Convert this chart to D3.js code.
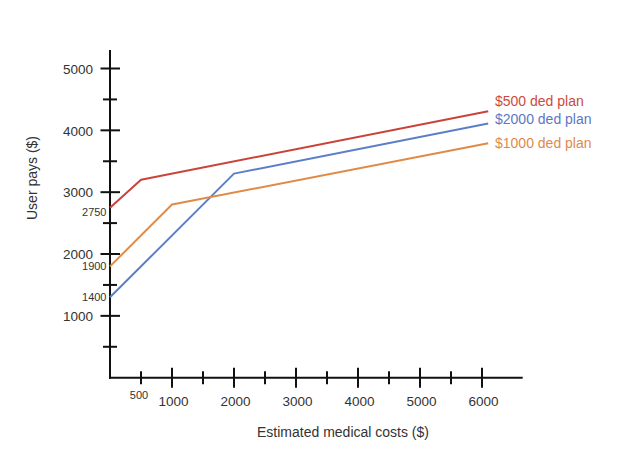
<!DOCTYPE html>
<html>
<head>
<meta charset="utf-8">
<script src="https://cdn.jsdelivr.net/npm/d3@7/dist/d3.min.js"></script>
<style>
  html, body { margin: 0; padding: 0; background: #fff; }
  svg { display: block; font-family: "Liberation Sans", Arial, sans-serif; }
</style>
</head>
<body>
<svg id="chart" width="632" height="465"></svg>
<script>
// ---- data ----
const seriesNames = ["$500 ded plan", "$2000 ded plan", "$1000 ded plan"];
const costs500 = [0, 500, 6100];
const pays500 = [2750, 3200, 4310];
const costs2000 = [0, 2000, 6100];
const pays2000 = [1300, 3300, 4110];
const costs1000 = [0, 1000, 6100];
const pays1000 = [1800, 2800, 3790];
const xMajorTicks = [1000, 2000, 3000, 4000, 5000, 6000];
const xMinorTicks = [500, 1500, 2500, 3500, 4500, 5500];
const yMajorTicks = [1000, 2000, 3000, 4000, 5000];
const yMinorTicks = [500, 1500, 2500, 3500, 4500];
const startLabels = ["2750", "1900", "1400"];
const colors = ["#c9433a", "#5b7fc6", "#e08a45"];
const textColors = ["#cc4a40", "#5d78c2", "#de8a4c"];

const svg = d3.select("#chart");
const x = d3.scaleLinear().domain([0, 6000]).range([110, 482]);
const y = d3.scaleLinear().domain([0, 5000]).range([377.7, 68.5]);

// axis lines
svg.append("line").attr("x1", x(0)).attr("x2", x(0)).attr("y1", 50).attr("y2", y(0) + 1)
  .attr("stroke", "#111").attr("stroke-width", 2);
svg.append("line").attr("x1", x(0) - 1).attr("x2", 522.7).attr("y1", y(0)).attr("y2", y(0))
  .attr("stroke", "#111").attr("stroke-width", 2);

// y ticks
const yMaj = d3.axisLeft(y).tickValues(yMajorTicks).tickSize(0).tickFormat(d3.format("d"));
svg.selectAll(".ymaj").data(yMajorTicks).enter().append("line")
  .attr("x1", x(0) - 9.5).attr("x2", x(0) + 10).attr("y1", d => y(d)).attr("y2", d => y(d))
  .attr("stroke", "#111").attr("stroke-width", 2);
svg.selectAll(".ymin").data(yMinorTicks).enter().append("line")
  .attr("x1", x(0) - 7).attr("x2", x(0) + 7).attr("y1", d => y(d)).attr("y2", d => y(d))
  .attr("stroke", "#111").attr("stroke-width", 2);
const gy = svg.append("g").attr("transform", `translate(${x(0) - 17},0)`).call(yMaj);
gy.select(".domain").remove();
gy.selectAll("text").attr("font-size", "13.5px").attr("fill", "#333")
  .attr("font-family", "'Liberation Sans', Arial, sans-serif").attr("x", 0).attr("dy", "0.35em");

// x ticks
svg.selectAll(".xmaj").data(xMajorTicks).enter().append("line")
  .attr("x1", d => x(d)).attr("x2", d => x(d)).attr("y1", y(0) - 10).attr("y2", y(0) + 10)
  .attr("stroke", "#111").attr("stroke-width", 2);
svg.selectAll(".xmin").data(xMinorTicks).enter().append("line")
  .attr("x1", d => x(d)).attr("x2", d => x(d)).attr("y1", y(0) - 6.5).attr("y2", y(0) + 6.5)
  .attr("stroke", "#111").attr("stroke-width", 2);
const xAx = d3.axisBottom(x).tickValues(xMajorTicks).tickSize(0).tickFormat(d3.format("d"));
const gx = svg.append("g").attr("transform", `translate(1,${y(0) + 19})`).call(xAx);
gx.select(".domain").remove();
gx.selectAll("text").attr("font-size", "13.5px").attr("fill", "#333")
  .attr("font-family", "'Liberation Sans', Arial, sans-serif").attr("y", 0).attr("dy", "0.71em");
// small 500 label
svg.append("text").attr("x", x(500) - 2).attr("y", 395).attr("dy", "0.35em")
  .attr("text-anchor", "middle").attr("font-size", "11px").attr("fill", "#333").text("500");

// lines
const series = [
  { name: seriesNames[0], xs: costs500, ys: pays500, c: colors[0], t: textColors[0] },
  { name: seriesNames[1], xs: costs2000, ys: pays2000, c: colors[1], t: textColors[1] },
  { name: seriesNames[2], xs: costs1000, ys: pays1000, c: colors[2], t: textColors[2] }
];
const line = d3.line().x(d => x(d[0])).y(d => y(d[1]));
series.forEach(s => {
  const pts = s.xs.map((v, i) => [v, s.ys[i]]);
  svg.append("path").attr("d", line(pts)).attr("fill", "none")
    .attr("stroke", s.c).attr("stroke-width", 2).attr("stroke-linejoin", "round");
});

// legend labels at line ends
const legendY = [100.7, 119.3, 143.3];
series.forEach((s, i) => {
  svg.append("text").attr("x", 495).attr("y", legendY[i]).attr("dy", "0.35em")
    .attr("font-size", "14px").attr("fill", s.t).text(s.name);
});

// start value annotations (red, orange, blue)
const annY = [212.5, 266, 297.5];
startLabels.forEach((t, i) => {
  svg.append("text").attr("x", 106.5).attr("y", annY[i]).attr("dy", "0.35em")
    .attr("text-anchor", "end").attr("font-size", "11px").attr("fill", "#333").text(t);
});

// axis titles
svg.append("text").attr("x", 343).attr("y", 432).attr("dy", "0.35em")
  .attr("text-anchor", "middle").attr("font-size", "14px").attr("fill", "#333")
  .text("Estimated medical costs ($)");
svg.append("text").attr("transform", "translate(32,178) rotate(-90)").attr("dy", "0.35em")
  .attr("text-anchor", "middle").attr("font-size", "14px").attr("fill", "#333")
  .text("User pays ($)");
</script>
</body>
</html>
